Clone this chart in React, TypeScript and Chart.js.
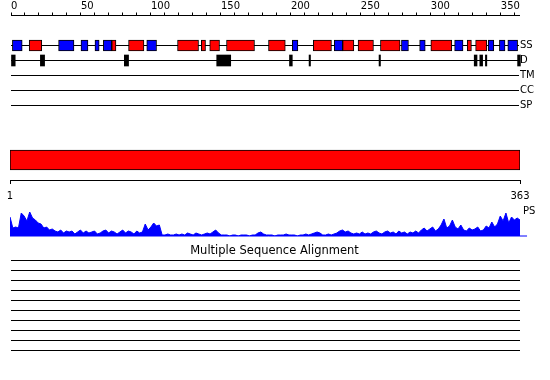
import React, { useEffect, useRef } from 'react';
import { Chart, registerables } from 'chart.js';

Chart.register(...registerables);

const FONT = 'DejaVu Sans';
const BLACK = '#000000';
const RED = '#ff0000';
const BLUE = '#0000ff';

// ---------- data ----------
const SEQ_LENGTH = 363;
const RULER_LABELS = [0, 50, 100, 150, 200, 250, 300, 350];
const RULER_MINOR = [0, 10, 20, 30, 40, 50, 60, 70, 80, 90, 100, 110, 120, 130, 140, 150, 160, 170, 180, 190, 200, 210, 220, 230, 240, 250, 260, 270, 280, 290, 300, 310, 320, 330, 340, 350, 360];
const SEQ_ENDS = [1, 363];

const TRACKS = ['SS', 'D', 'TM', 'CC', 'SP'];

// secondary structure segments [start, end]
const SS_RED: [number, number][] = [
  [13, 22], [72, 75], [84, 95], [119, 134], [136, 139], [142, 149], [154, 174],
  [184, 196], [216, 229], [237, 245], [248, 259], [264, 278], [300, 315], [326, 329], [332, 340],
];
const SS_BLUE: [number, number][] = [
  [1, 8], [34, 45], [50, 55], [60, 63], [66, 72], [97, 104], [201, 205], [231, 237],
  [279, 284], [292, 296], [317, 323], [341, 345], [349, 353], [355, 362],
];
// disorder segments
const DISORDER: [number, number][] = [
  [0, 3], [21, 24], [81, 84], [147, 157], [199, 201], [213, 214], [263, 264],
  [331, 333], [335, 337], [339, 340], [362, 364],
];

// domain bar
const DOMAINS: [number, number][] = [[1, 363]];

// PS profile: [residue, score]
const PS_PROFILE: [number, number][] = [
  [1, 19], [3, 8], [5, 9], [7, 8], [9, 23], [11, 20], [13, 15], [15, 24], [17, 18], [19, 16],
  [21, 13], [23, 12], [25, 8], [27, 9], [29, 6], [31, 7], [33, 5], [35, 4], [37, 6], [39, 3],
  [41, 5], [43, 4], [45, 5], [47, 2], [49, 4], [51, 6], [53, 3], [55, 5], [57, 3], [59, 4],
  [61, 5], [63, 2], [65, 3], [67, 5], [69, 6], [71, 3], [73, 5], [75, 4], [77, 2], [79, 4],
  [81, 6], [83, 3], [85, 5], [87, 4], [89, 2], [91, 5], [93, 3], [95, 4], [97, 12], [99, 6],
  [101, 9], [103, 13], [105, 10], [107, 11], [109, 1], [111, 1], [113, 2], [115, 1], [117, 1], [119, 2],
  [121, 1], [123, 2], [125, 1], [127, 3], [129, 2], [131, 1], [133, 3], [135, 2], [137, 1], [139, 2],
  [141, 3], [143, 2], [145, 4], [147, 6], [149, 3], [151, 1], [153, 1], [155, 1], [157, 0], [159, 1],
  [161, 1], [163, 0], [165, 1], [167, 1], [169, 1], [171, 0], [173, 1], [175, 1], [177, 3], [179, 4],
  [181, 2], [183, 1], [185, 1], [187, 1], [189, 0], [191, 1], [193, 1], [195, 1], [197, 2], [199, 1],
  [201, 1], [203, 1], [205, 0], [207, 1], [209, 1], [211, 2], [213, 1], [215, 2], [217, 3], [219, 4],
  [221, 3], [223, 1], [225, 1], [227, 2], [229, 1], [231, 2], [233, 3], [235, 5], [237, 6], [239, 4],
  [241, 5], [243, 3], [245, 2], [247, 3], [249, 2], [251, 4], [253, 2], [255, 3], [257, 2], [259, 4],
  [261, 5], [263, 3], [265, 2], [267, 4], [269, 5], [271, 3], [273, 4], [275, 2], [277, 5], [279, 3],
  [281, 4], [283, 2], [285, 4], [287, 3], [289, 5], [291, 3], [293, 6], [295, 8], [297, 5], [299, 7],
  [301, 9], [303, 5], [305, 7], [307, 11], [309, 17], [311, 8], [313, 10], [315, 16], [317, 9], [319, 7],
  [321, 11], [323, 6], [325, 5], [327, 8], [329, 6], [331, 7], [333, 9], [335, 5], [337, 6], [339, 10],
  [341, 8], [343, 14], [345, 9], [347, 12], [349, 20], [351, 15], [353, 23], [355, 13], [357, 19], [359, 16],
  [361, 18], [363, 16],
];
const PS_MAX = 25;
const PS_BASELINE_END = 368;

// multiple sequence alignment coverage [start, end]
const MSA_SEQUENCES: [number, number][] = [
  [1, 363], [1, 363], [1, 363], [1, 363], [1, 363],
  [1, 363], [1, 363], [1, 363], [1, 363], [1, 363],
];
const MSA_TITLE = 'Multiple Sequence Alignment';

// ---------- helpers ----------
const tickFont = { family: FONT, size: 10 };

function zeroPad(s: any) {
  s.paddingTop = 0;
  s.paddingBottom = 0;
  s.paddingLeft = 0;
  s.paddingRight = 0;
}

function useChart(ref: React.RefObject<HTMLCanvasElement>, makeConfig: () => any) {
  useEffect(() => {
    if (!ref.current) return;
    const chart = new Chart(ref.current, makeConfig());
    return () => chart.destroy();
  }, []);
}

const base = {
  responsive: false,
  animation: false,
  devicePixelRatio: 1,
  events: [],
};

function trackConfig() {
  return {
    type: 'bar',
    data: {
      datasets: [
        ...TRACKS.map((name, i) => ({
          type: 'line',
          label: name,
          indexAxis: 'x',
          data: [{ x: 0, y: i + 2 }, { x: SEQ_LENGTH, y: i + 2 }],
          borderColor: BLACK,
          borderWidth: 1,
          pointRadius: 0,
          clip: false,
          order: 10,
        })),
        {
          type: 'bar',
          label: 'SS red',
          data: SS_RED.map(([s, e]) => ({ x: [s, e], y: 2 })),
          backgroundColor: RED,
          borderColor: BLACK,
          borderWidth: 1,
          borderSkipped: false,
          grouped: false,
          maxBarThickness: 11,
          barPercentage: 1,
          categoryPercentage: 1,
          order: 1,
        },
        {
          type: 'bar',
          label: 'SS blue',
          data: SS_BLUE.map(([s, e]) => ({ x: [s, e], y: 2 })),
          backgroundColor: BLUE,
          borderColor: BLACK,
          borderWidth: 1,
          borderSkipped: false,
          grouped: false,
          maxBarThickness: 11,
          barPercentage: 1,
          categoryPercentage: 1,
          order: 1,
        },
        {
          type: 'bar',
          label: 'Disorder',
          data: DISORDER.map(([s, e]) => ({ x: [s, e], y: 3 })),
          backgroundColor: BLACK,
          borderWidth: 0,
          grouped: false,
          maxBarThickness: 11,
          barPercentage: 1,
          categoryPercentage: 1,
          clip: false,
          order: 1,
        },
      ],
    },
    options: {
      ...base,
      indexAxis: 'y',
      layout: { padding: { left: 11, right: 0, top: 0, bottom: 4.5 } },
      plugins: { legend: { display: false }, tooltip: { enabled: false }, title: { display: false } },
      scales: {
        x: {
          type: 'linear',
          position: 'top',
          min: 0,
          max: SEQ_LENGTH,
          offset: false,
          beginAtZero: false,
          afterBuildTicks: (s: any) => { s.ticks = RULER_MINOR.map((v) => ({ value: v })); },
          afterFit: (s: any) => { s.height = 15.5; zeroPad(s); },
          ticks: {
            autoSkip: false,
            maxRotation: 0,
            minRotation: 0,
            align: 'start',
            padding: 0,
            color: BLACK,
            font: tickFont,
            callback: (v: any) => (RULER_LABELS.includes(v) ? String(v) : ''),
          },
          grid: { offset: false, drawOnChartArea: false, tickLength: 3, tickColor: BLACK, tickWidth: 1 },
          border: { color: BLACK, width: 1 },
        },
        y: {
          type: 'linear',
          position: 'right',
          reverse: true,
          offset: false,
          min: 0,
          max: 7,
          afterBuildTicks: (s: any) => { s.ticks = TRACKS.map((_, i) => ({ value: i + 2 })); },
          afterFit: (s: any) => { s.width = 31; zeroPad(s); },
          ticks: {
            padding: 1,
            color: BLACK,
            font: tickFont,
            callback: (v: any) => TRACKS[v - 2],
          },
          grid: { offset: false, display: false, drawTicks: false },
          border: { display: false },
        },
      },
    },
  };
}

function domainConfig(h: number) {
  return {
    type: 'bar',
    data: {
      datasets: [
        {
          label: 'Domain',
          data: DOMAINS.map(([s, e]) => ({ x: [s, e], y: 0.5 })),
          backgroundColor: RED,
          borderColor: BLACK,
          borderWidth: 1,
          borderSkipped: false,
          grouped: false,
          maxBarThickness: 20,
          barPercentage: 1,
          categoryPercentage: 1,
        },
      ],
    },
    options: {
      ...base,
      indexAxis: 'y',
      layout: { padding: { left: 10, right: 30, top: 0, bottom: 0 } },
      plugins: { legend: { display: false }, tooltip: { enabled: false } },
      scales: {
        x: {
          type: 'linear',
          position: 'bottom',
          min: SEQ_ENDS[0],
          max: SEQ_ENDS[1],
          afterBuildTicks: (s: any) => { s.ticks = SEQ_ENDS.map((v) => ({ value: v })); },
          afterFit: (s: any) => { s.height = h - 40; zeroPad(s); },
          ticks: { autoSkip: false, maxRotation: 0, padding: 6, color: BLACK, font: tickFont },
          grid: { drawOnChartArea: false, tickLength: 4, tickColor: BLACK },
          border: { color: BLACK, width: 1 },
        },
        y: {
          type: 'linear',
          display: false,
          offset: false,
          min: 0,
          max: 1,
          afterBuildTicks: (s: any) => { s.ticks = [{ value: 0 }, { value: 1 }]; },
        },
      },
    },
  };
}

function psConfig() {
  return {
    type: 'line',
    data: {
      datasets: [
        {
          label: 'PS',
          data: PS_PROFILE.map(([r, v]) => ({ x: r, y: v })),
          fill: 'origin',
          backgroundColor: BLUE,
          borderColor: BLUE,
          borderWidth: 1,
          pointRadius: 0,
          tension: 0,
        },
        {
          label: 'PS baseline',
          data: [{ x: 1, y: 0 }, { x: PS_BASELINE_END, y: 0 }],
          borderColor: BLUE,
          borderWidth: 1,
          pointRadius: 0,
          clip: false,
        },
      ],
    },
    options: {
      ...base,
      layout: { padding: { left: 10, right: 0, top: 11, bottom: 4 } },
      plugins: { legend: { display: false }, tooltip: { enabled: false } },
      scales: {
        x: { type: 'linear', display: false, min: 1, max: SEQ_LENGTH },
        y: {
          type: 'linear',
          position: 'right',
          min: 0,
          max: PS_MAX,
          afterBuildTicks: (s: any) => { s.ticks = [{ value: PS_MAX }]; },
          afterFit: (s: any) => { s.width = 30; zeroPad(s); },
          ticks: { padding: 3, color: BLACK, font: tickFont, callback: () => 'PS' },
          grid: { display: false, drawTicks: false },
          border: { display: false },
        },
      },
    },
  };
}

function msaConfig() {
  return {
    type: 'line',
    data: {
      datasets: MSA_SEQUENCES.map(([s, e], i) => ({
        label: 'seq ' + (i + 1),
        data: [{ x: s, y: i + 1 }, { x: e, y: i + 1 }],
        borderColor: BLACK,
        borderWidth: 1,
        pointRadius: 0,
        clip: false,
      })),
    },
    options: {
      ...base,
      layout: { padding: { left: 11, right: 12, top: 0, bottom: 4.5 } },
      plugins: {
        legend: { display: false },
        tooltip: { enabled: false },
        title: {
          display: true,
          text: MSA_TITLE,
          color: BLACK,
          font: { family: FONT, size: 11.5, weight: 'normal', lineHeight: 1.2 },
          padding: { top: 4, bottom: 2.7 },
        },
      },
      scales: {
        x: { type: 'linear', display: false, min: 1, max: SEQ_LENGTH },
        y: {
          type: 'linear',
          position: 'right',
          min: 1,
          max: MSA_SEQUENCES.length,
          reverse: true,
          afterFit: (s: any) => { s.width = 18; zeroPad(s); },
          ticks: { display: false },
          grid: { display: false, drawTicks: false },
          border: { display: false },
        },
      },
    },
  };
}

export default function App() {
  const r1 = useRef<HTMLCanvasElement>(null);
  const r2 = useRef<HTMLCanvasElement>(null);
  const r3 = useRef<HTMLCanvasElement>(null);
  const r4 = useRef<HTMLCanvasElement>(null);
  useChart(r1, trackConfig);
  useChart(r2, () => domainConfig(60));
  useChart(r3, psConfig);
  useChart(r4, msaConfig);
  const pos = (top: number): React.CSSProperties => ({ position: 'absolute', left: 0, top, display: 'block' });
  return (
    <div style={{ position: 'absolute', left: 0, top: 0, width: 550, height: 380, background: '#ffffff' }}>
      <canvas ref={r1} width={550} height={125} style={pos(0)} />
      <canvas ref={r2} width={550} height={60} style={pos(140)} />
      <canvas ref={r3} width={550} height={40} style={pos(200)} />
      <canvas ref={r4} width={550} height={115} style={pos(240)} />
    </div>
  );
}
